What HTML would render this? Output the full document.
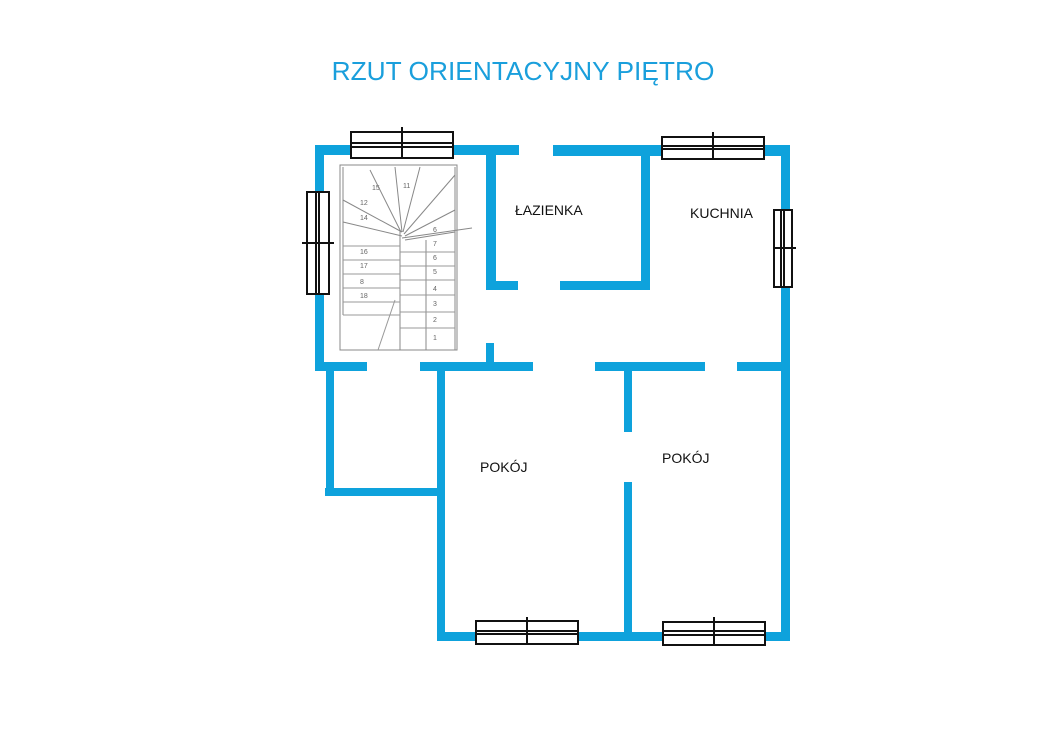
<!DOCTYPE html>
<html><head><meta charset="utf-8"><style>
html,body{margin:0;padding:0;background:#fff;width:1043px;height:743px;overflow:hidden}
svg{display:block}
text{font-family:"Liberation Sans",sans-serif}
</style></head><body>
<svg width="1043" height="743" viewBox="0 0 1043 743">
<text x="523" y="80" text-anchor="middle" font-size="26.3" fill="#1a9fdc">RZUT ORIENTACYJNY PIĘTRO</text>
<g fill="#0ea2dc">
<rect x="315" y="145" width="204" height="10"/>
<rect x="553" y="145" width="237" height="11"/>
<rect x="315" y="145" width="9" height="226"/>
<rect x="781" y="145" width="9" height="496"/>
<rect x="486" y="145" width="10" height="145"/>
<rect x="486" y="281" width="32" height="9"/>
<rect x="560" y="281" width="90" height="9"/>
<rect x="641" y="145" width="9" height="145"/>
<rect x="486" y="343" width="8" height="24"/>
<rect x="315" y="362" width="52" height="9"/>
<rect x="420" y="362" width="113" height="9"/>
<rect x="595" y="362" width="110" height="9"/>
<rect x="737" y="362" width="53" height="9"/>
<rect x="326" y="362" width="8" height="134"/>
<rect x="325" y="488" width="115" height="8"/>
<rect x="437" y="362" width="8" height="278"/>
<rect x="437" y="632" width="353" height="9"/>
<rect x="624" y="362" width="8" height="70"/>
<rect x="624" y="482" width="8" height="158"/>
</g>
<g fill="#fff" stroke="#111" stroke-width="2">
<g><rect x="351" y="132" width="102" height="26"/><line x1="351" y1="143" x2="453" y2="143"/><line x1="351" y1="147" x2="453" y2="147"/><line x1="402" y1="127" x2="402" y2="158"/></g>
<g><rect x="662" y="137" width="102" height="22"/><line x1="662" y1="146" x2="764" y2="146"/><line x1="662" y1="149" x2="764" y2="149"/><line x1="713" y1="132" x2="713" y2="160"/></g>
<g><rect x="307" y="192" width="22" height="102"/><line x1="316" y1="192" x2="316" y2="294"/><line x1="319" y1="192" x2="319" y2="294"/><line x1="302" y1="243" x2="334" y2="243"/></g>
<g><rect x="774" y="210" width="18" height="77"/><line x1="781" y1="210" x2="781" y2="287"/><line x1="784" y1="210" x2="784" y2="287"/><line x1="773" y1="248" x2="796" y2="248"/></g>
<g><rect x="476" y="621" width="102" height="23"/><line x1="476" y1="631" x2="578" y2="631"/><line x1="476" y1="634" x2="578" y2="634"/><line x1="527" y1="617" x2="527" y2="644"/></g>
<g><rect x="663" y="622" width="102" height="23"/><line x1="663" y1="631" x2="765" y2="631"/><line x1="663" y1="635" x2="765" y2="635"/><line x1="714" y1="617" x2="714" y2="645"/></g>
</g>
<g stroke="#888" stroke-width="1" fill="none">
<rect x="340" y="165" width="117" height="185"/>
<line x1="343" y1="167" x2="343" y2="315"/>
<line x1="455" y1="167" x2="455" y2="350"/>
<line x1="400" y1="230" x2="400" y2="350"/>
<line x1="426" y1="240" x2="426" y2="350"/>
<line x1="343" y1="200" x2="402" y2="232"/>
<line x1="343" y1="222" x2="402" y2="236"/>
<line x1="370" y1="170" x2="401" y2="232"/>
<line x1="395" y1="167" x2="402" y2="232"/>
<line x1="420" y1="167" x2="403" y2="232"/>
<line x1="455" y1="175" x2="404" y2="234"/>
<line x1="455" y1="210" x2="405" y2="236"/>
<line x1="455" y1="232" x2="405" y2="240"/>
<line x1="402" y1="238" x2="472" y2="228"/>
<g stroke="#999">
<line x1="343" y1="246" x2="400" y2="246"/><line x1="343" y1="260" x2="400" y2="260"/><line x1="343" y1="274" x2="400" y2="274"/><line x1="343" y1="288" x2="400" y2="288"/><line x1="343" y1="302" x2="400" y2="302"/><line x1="343" y1="315" x2="400" y2="315"/>
<line x1="400" y1="252" x2="455" y2="252"/><line x1="400" y1="266" x2="455" y2="266"/><line x1="400" y1="280" x2="455" y2="280"/><line x1="400" y1="295" x2="455" y2="295"/><line x1="400" y1="312" x2="455" y2="312"/><line x1="400" y1="328" x2="455" y2="328"/>
<line x1="395" y1="300" x2="378" y2="350"/>
</g>
</g>
<g font-size="7" fill="#666">
<text x="372" y="190">15</text><text x="403" y="188">11</text><text x="360" y="205">12</text><text x="360" y="220">14</text><text x="360" y="254">16</text><text x="360" y="268">17</text><text x="360" y="284">8</text><text x="360" y="298">18</text><text x="433" y="232">6</text><text x="433" y="246">7</text><text x="433" y="260">6</text><text x="433" y="274">5</text><text x="433" y="291">4</text><text x="433" y="306">3</text><text x="433" y="322">2</text><text x="433" y="340">1</text>
</g>
<g font-size="14" fill="#111">
<text x="515" y="215">ŁAZIENKA</text>
<text x="690" y="218">KUCHNIA</text>
<text x="480" y="472">POKÓJ</text>
<text x="662" y="463">POKÓJ</text>
</g>
</svg>
</body></html>
